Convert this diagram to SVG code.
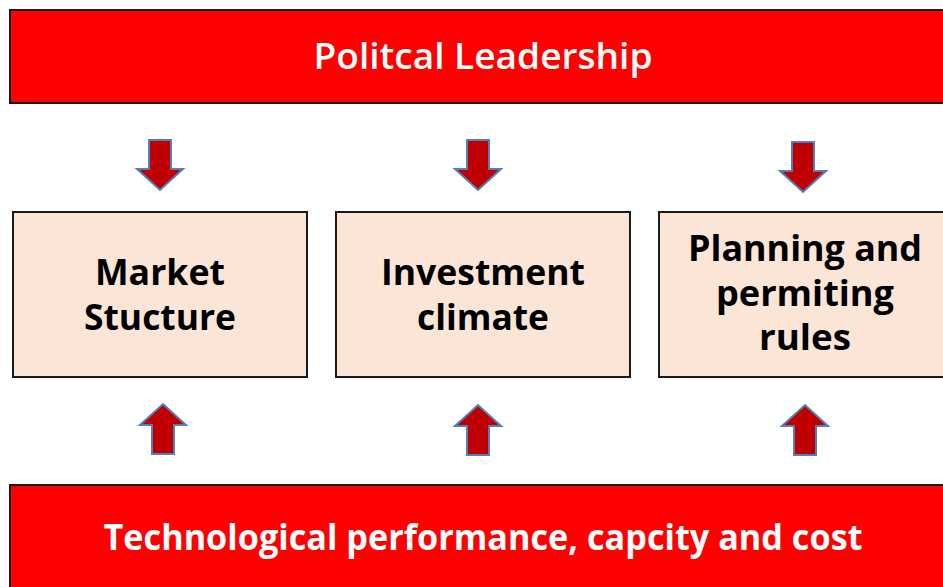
<svg xmlns="http://www.w3.org/2000/svg" width="943" height="587" viewBox="0 0 943 587">
  <style>
    .bar { fill: #FF0000; stroke: #1a1a1a; stroke-width: 2; }
    .box { fill: #FBE5D6; stroke: #1a1a1a; stroke-width: 2; }
    .bar-text { font-family: "Open Sans", "Noto Sans", sans-serif; fill: #FFFFFF; font-size: 36px; text-anchor: middle; }
    .box-text { font-family: "Open Sans", "Noto Sans", sans-serif; fill: #000000; font-size: 35px; font-weight: bold; text-anchor: middle; }
    .arrow { fill: #C00000; stroke: #4F81BD; stroke-width: 2; stroke-linejoin: miter; }
  </style>
  <defs>
    <!-- block arrow pointing down, tip at origin -->
    <path id="arrow-down" d="M -11 -50 L 11 -50 L 11 -21 L 23 -21 L 0 0 L -23 -21 L -11 -21 Z"/>
  </defs>

  <rect width="943" height="587" fill="#FFFFFF"/>

  <g id="political-leadership">
    <rect class="bar" x="10" y="10" width="945" height="93"/>
    <text class="bar-text" x="483" y="69" font-weight="600" textLength="339" lengthAdjust="spacingAndGlyphs">Politcal Leadership</text>
  </g>

  <g id="market-structure">
    <rect class="box" x="13" y="212" width="294" height="165"/>
    <text class="box-text" x="160" y="285" textLength="130" lengthAdjust="spacingAndGlyphs">Market</text>
    <text class="box-text" x="160" y="330" textLength="152" lengthAdjust="spacingAndGlyphs">Stucture</text>
  </g>

  <g id="investment-climate">
    <rect class="box" x="336" y="212" width="294" height="165"/>
    <text class="box-text" x="483" y="285" textLength="204" lengthAdjust="spacingAndGlyphs">Investment</text>
    <text class="box-text" x="483" y="330" textLength="132" lengthAdjust="spacingAndGlyphs">climate</text>
  </g>

  <g id="planning-rules">
    <rect class="box" x="659" y="212" width="300" height="165"/>
    <text class="box-text" x="805" y="261" textLength="234" lengthAdjust="spacingAndGlyphs">Planning and</text>
    <text class="box-text" x="805" y="306" textLength="178" lengthAdjust="spacingAndGlyphs">permiting</text>
    <text class="box-text" x="805" y="350" textLength="92" lengthAdjust="spacingAndGlyphs">rules</text>
  </g>

  <g id="technology">
    <rect class="bar" x="10" y="485" width="945" height="110"/>
    <text class="bar-text" x="483" y="550" font-weight="bold" textLength="759" lengthAdjust="spacingAndGlyphs">Technological performance, capcity and cost</text>
  </g>

  <g id="connectors">
    <!-- leadership down to each box -->
    <use href="#arrow-down" class="arrow" transform="translate(160 190)"/>
    <use href="#arrow-down" class="arrow" transform="translate(478 190)"/>
    <use href="#arrow-down" class="arrow" transform="translate(803 192)"/>
    <!-- technology up to each box -->
    <use href="#arrow-down" class="arrow" transform="translate(163 404) rotate(180)"/>
    <use href="#arrow-down" class="arrow" transform="translate(478 405) rotate(180)"/>
    <use href="#arrow-down" class="arrow" transform="translate(805 405) rotate(180)"/>
  </g>
</svg>
